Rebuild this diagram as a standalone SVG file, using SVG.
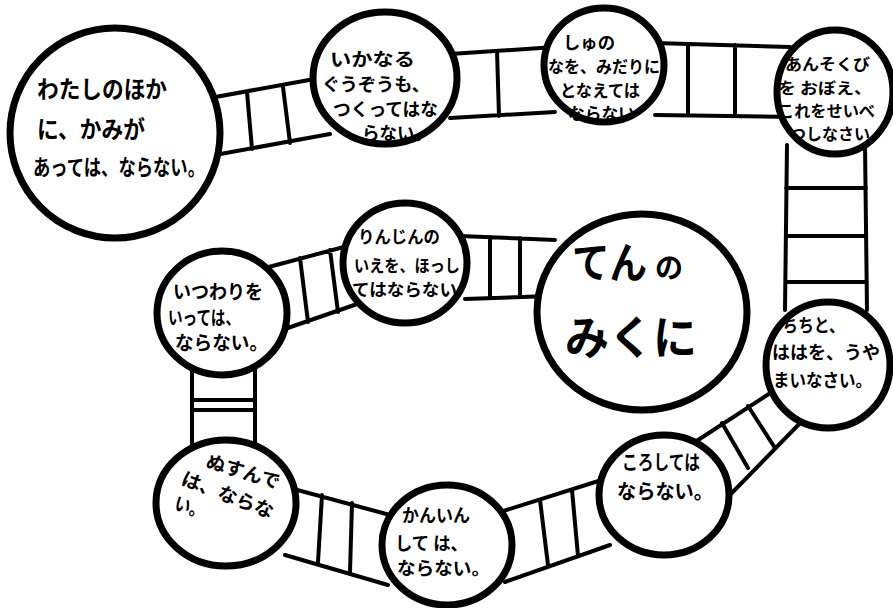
<svg xmlns="http://www.w3.org/2000/svg" width="893" height="608" viewBox="0 0 893 608">
<style>
.c{fill:#fff;stroke:#000;stroke-width:7}
.l{stroke:#000;stroke-width:4;fill:none;stroke-linecap:round}
text{font-family:"Noto Sans CJK JP","Noto Sans",sans-serif;font-weight:bold;fill:#000}
</style>
<rect width="893" height="608" fill="#fff"/>
<g id="connectors" class="l">
<path d="M210 98L320 78M215 155L330 134M247 92L252 149M283 87L290 143"/>
<path d="M450 54L555 47M450 118L555 112M497 51L499 116"/>
<path d="M655 43L790 47M655 115L792 117M688 44L688 115M735 45L735 116"/>
<path d="M787 145L785 310M865 145L867 310M786 188L866 188M786 236L866 236M786 282L866 282"/>
<path d="M775 390L695 442M805 418L725 500M748 406L775 448M722 423L748 468"/>
<path d="M608 478L500 512M610 545L505 582M540 500L548 565M572 490L578 556"/>
<path d="M390 515L290 488M388 585L285 555M322 495L318 562M352 503L350 572"/>
<path d="M192 365L192 455M255 365L255 455M192 400L255 400M192 410L255 410"/>
<path d="M265 268L355 244M282 330L360 303M300 258L308 322M330 250L338 312"/>
<path d="M460 236L555 240M465 299L550 296M490 237L490 298M520 238L520 297"/>
</g>
<g id="n1"><circle class="c" cx="115" cy="133" r="105"/>
<text x="37" y="98" font-size="24" textLength="130" lengthAdjust="spacingAndGlyphs">わたしのほか</text>
<text x="37" y="138" font-size="24" textLength="108" lengthAdjust="spacingAndGlyphs">に、かみが</text>
<text x="33" y="175" font-size="22" textLength="172" lengthAdjust="spacingAndGlyphs">あっては、ならない。</text></g>
<g id="n2"><ellipse class="c" cx="385" cy="78" rx="72" ry="66"/>
<text x="330" y="66" font-size="18" textLength="85" lengthAdjust="spacingAndGlyphs">いかなる</text>
<text x="322" y="91" font-size="18" textLength="108" lengthAdjust="spacingAndGlyphs">ぐうぞうも、</text>
<text x="333" y="116" font-size="18" textLength="105" lengthAdjust="spacingAndGlyphs">つくってはな</text>
<text x="362" y="140" font-size="18" textLength="70" lengthAdjust="spacingAndGlyphs">らない。</text></g>
<g id="n3"><ellipse class="c" cx="604" cy="65" rx="60" ry="57"/>
<text x="563" y="49" font-size="17" textLength="52" lengthAdjust="spacingAndGlyphs">しゅの</text>
<text x="548" y="73" font-size="17" textLength="112" lengthAdjust="spacingAndGlyphs">なを、みだりに</text>
<text x="560" y="97" font-size="17" textLength="80" lengthAdjust="spacingAndGlyphs">となえては</text>
<text x="568" y="120" font-size="17" textLength="67" lengthAdjust="spacingAndGlyphs">ならない</text></g>
<g id="n4"><ellipse class="c" cx="835" cy="92" rx="58" ry="62"/>
<text x="785" y="70" font-size="16" textLength="85" lengthAdjust="spacingAndGlyphs">あんそくび</text>
<text x="778" y="94" font-size="16" textLength="94" lengthAdjust="spacingAndGlyphs">を おぼえ、</text>
<text x="778" y="117" font-size="16" textLength="97" lengthAdjust="spacingAndGlyphs">これをせいべ</text>
<text x="790" y="140" font-size="16" textLength="80" lengthAdjust="spacingAndGlyphs">つしなさい</text></g>
<g id="n5"><ellipse class="c" cx="405" cy="263" rx="62" ry="60"/>
<text x="358" y="243" font-size="17" textLength="82" lengthAdjust="spacingAndGlyphs">りんじんの</text>
<text x="354" y="272" font-size="17" textLength="106" lengthAdjust="spacingAndGlyphs">いえを、ほっし</text>
<text x="352" y="296" font-size="17" textLength="105" lengthAdjust="spacingAndGlyphs">てはならない</text></g>
<g id="n6"><ellipse class="c" cx="222" cy="313" rx="65" ry="62"/>
<text x="173" y="299" font-size="19" textLength="90" lengthAdjust="spacingAndGlyphs">いつわりを</text>
<text x="168" y="325" font-size="19" textLength="72" lengthAdjust="spacingAndGlyphs">いっては、</text>
<text x="175" y="350" font-size="19" textLength="93" lengthAdjust="spacingAndGlyphs">ならない。</text></g>
<g id="n7"><ellipse class="c" cx="642" cy="312" rx="105" ry="98"/>
<text x="572" y="278" font-size="42" textLength="75" lengthAdjust="spacingAndGlyphs">てん</text>
<text x="655" y="278" font-size="28" font-weight="normal">の</text>
<text x="565" y="354" font-size="46" textLength="132" lengthAdjust="spacingAndGlyphs">みくに</text></g>
<g id="n8"><ellipse class="c" cx="828" cy="365" rx="62" ry="63"/>
<text x="782" y="332" font-size="18" textLength="63" lengthAdjust="spacingAndGlyphs">ちちと、</text>
<text x="772" y="359" font-size="18" textLength="108" lengthAdjust="spacingAndGlyphs">ははを、うや</text>
<text x="773" y="387" font-size="18" textLength="99" lengthAdjust="spacingAndGlyphs">まいなさい。</text></g>
<g id="n9"><ellipse class="c" cx="664" cy="495" rx="65" ry="60"/>
<text x="622" y="470" font-size="20" textLength="78" lengthAdjust="spacingAndGlyphs">ころしては</text>
<text x="617" y="499" font-size="20" textLength="96" lengthAdjust="spacingAndGlyphs">ならない。</text></g>
<g id="n10"><ellipse class="c" cx="226" cy="503" rx="70" ry="63"/>
<text transform="translate(205 467) rotate(17)" font-size="19" textLength="76" lengthAdjust="spacingAndGlyphs">ぬすんで</text>
<text transform="translate(180 484) rotate(21)" font-size="19" textLength="97" lengthAdjust="spacingAndGlyphs">は、ならな</text>
<text transform="translate(173 509) rotate(18)" font-size="19" textLength="32" lengthAdjust="spacingAndGlyphs">い。</text></g>
<g id="n11"><ellipse class="c" cx="447" cy="545" rx="65" ry="60"/>
<text x="402" y="522" font-size="18" textLength="68" lengthAdjust="spacingAndGlyphs">かんいん</text>
<text x="395" y="550" font-size="18" textLength="73" lengthAdjust="spacingAndGlyphs">して は、</text>
<text x="397" y="575" font-size="18" textLength="93" lengthAdjust="spacingAndGlyphs">ならない。</text></g>
</svg>
